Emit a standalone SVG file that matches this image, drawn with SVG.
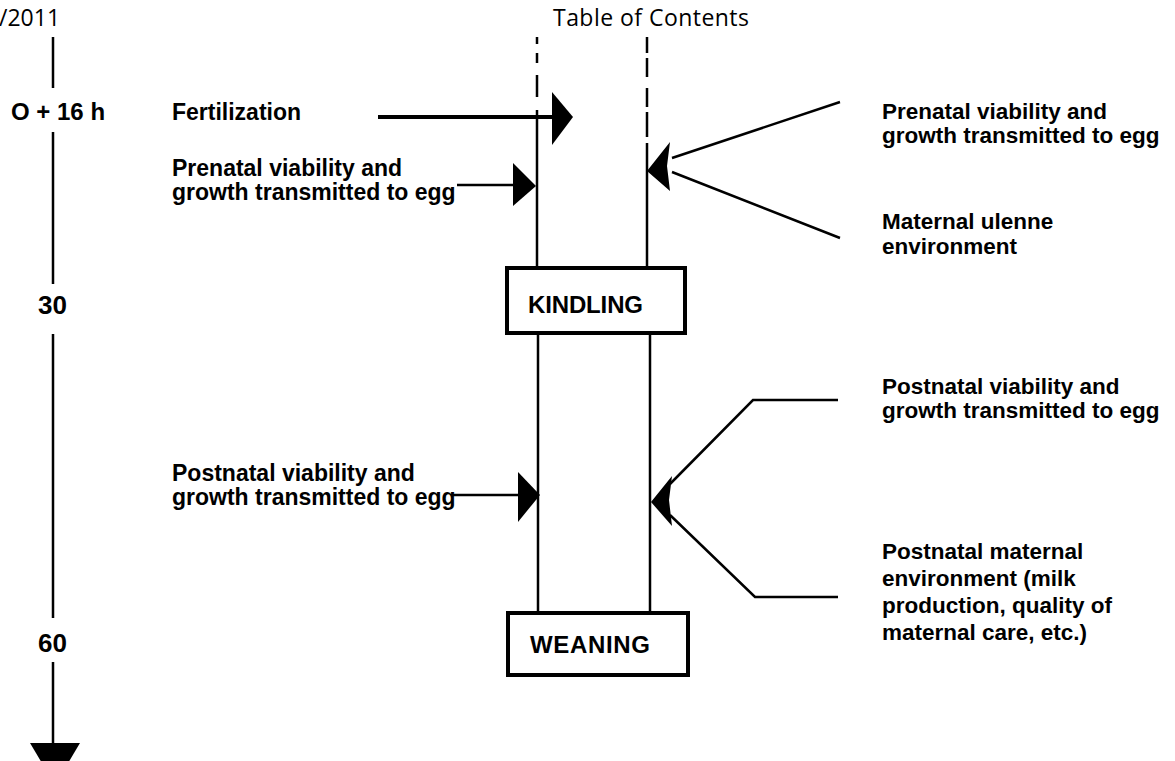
<svg xmlns="http://www.w3.org/2000/svg" width="1175" height="761" viewBox="0 0 1175 761">
<style>
.ln{stroke:#000;stroke-width:2.5;fill:none;stroke-linecap:butt}
.th{stroke-width:4}
.box{stroke:#000;stroke-width:4;fill:#fff}
.hd{stroke:none;fill:#000}
.lbl{font-family:"Liberation Sans",Arial,sans-serif;font-weight:bold;fill:#000}
.l{font-size:23px}
.r{font-size:22.5px}
.hdr{font-family:"Open Sans","Noto Sans",sans-serif;font-size:23px;fill:#000}
</style>
<rect width="1175" height="761" fill="#fff"/>
<g id="header">
<text class="hdr" x="-1" y="26">/2011</text>
<text class="hdr" x="553" y="26" textLength="196">Table of Contents</text>
</g>
<g id="timeline">
<path class="ln" d="M53,37V88M53,132V284M53,334V618M53,662V745"/>
<polygon class="hd" points="30,743 80,743 55,785"/>
<text class="lbl" x="11" y="120" font-size="24">O + 16 h</text>
<text class="lbl" x="38" y="314" font-size="26">30</text>
<text class="lbl" x="38" y="652" font-size="26">60</text>
</g>
<g id="column">
<path class="ln" d="M537,37V44M537,53V63M537,75V97M537,110V268M647,37V53M647,58V77M647,88V107M647,112V137M647,143V268M538,333V613M650,333V613"/>
</g>
<g id="kindling">
<rect class="box" x="507" y="268" width="178" height="65"/>
<text class="lbl" x="528" y="313" font-size="24" textLength="115">KINDLING</text>
</g>
<g id="weaning">
<rect class="box" x="508" y="613" width="180" height="62"/>
<text class="lbl" x="530" y="653" font-size="24" textLength="120">WEANING</text>
</g>
<g id="fertilization">
<text class="lbl l" x="172" y="120">Fertilization</text>
</g>
<g id="prenatal-left">
<text class="lbl l" x="172" y="176">Prenatal viability and</text>
<text class="lbl l" x="172" y="200">growth transmitted to egg</text>
</g>
<g id="postnatal-left">
<text class="lbl l" x="172" y="481">Postnatal viability and</text>
<text class="lbl l" x="172" y="505">growth transmitted to egg</text>
</g>
<g id="prenatal-right">
<text class="lbl r" x="882" y="119">Prenatal viability and</text>
<text class="lbl r" x="882" y="143">growth transmitted to egg</text>
</g>
<g id="maternal-uterine">
<text class="lbl r" x="882" y="229">Maternal ulenne</text>
<text class="lbl r" x="882" y="254">environment</text>
</g>
<g id="postnatal-right">
<text class="lbl r" x="882" y="394">Postnatal viability and</text>
<text class="lbl r" x="882" y="418">growth transmitted to egg</text>
</g>
<g id="postnatal-maternal">
<text class="lbl r" x="882" y="559">Postnatal maternal</text>
<text class="lbl r" x="882" y="586">environment (milk</text>
<text class="lbl r" x="882" y="613">production, quality of</text>
<text class="lbl r" x="882" y="640">maternal care, etc.)</text>
</g>
<g id="connectors">
<path class="ln th" d="M378,117H554"/>
<polygon class="hd" points="552,92 573,117 552,145"/>
<path class="ln" d="M457,185H515"/>
<polygon class="hd" points="513,163 536,186 513,206"/>
<path class="ln" d="M672,158L840,102M672,172L840,238"/>
<path class="hd" d="M647,171L670,142L667,166L670,191Z"/>
<path class="ln" d="M452,495H520"/>
<polygon class="hd" points="518,472 540,495 518,522"/>
<path class="ln" d="M670,484L753,400H838M670,515L755,597H838"/>
<path class="hd" d="M651,502L672,476L669,500L672,526Z"/>
</g>
</svg>
